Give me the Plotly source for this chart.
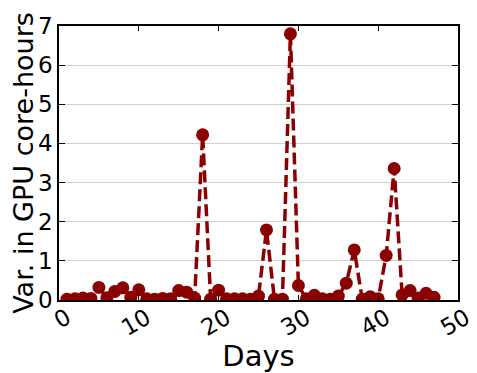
import plotly.graph_objects as go

days = list(range(1, 48))
variance = [0.02, 0.03, 0.05, 0.04, 0.32, 0.06, 0.22, 0.31, 0.07, 0.26,
            0.03, 0.02, 0.04, 0.03, 0.24, 0.2, 0.05, 4.22, 0.02, 0.25,
            0.03, 0.03, 0.03, 0.02, 0.1, 1.79, 0.02, 0.02, 6.8, 0.37,
            0.03, 0.12, 0.03, 0.02, 0.1, 0.43, 1.28, 0.02, 0.08, 0.03,
            1.14, 3.36, 0.13, 0.24, 0.05, 0.17, 0.07]
x_ticks = [0, 10, 20, 30, 40, 50]
y_ticks = [0, 1, 2, 3, 4, 5, 6, 7]

color = "#8b0000"
font = "DejaVu Sans"

fig = go.Figure(go.Scatter(
    x=days, y=variance, mode="lines+markers",
    line=dict(color=color, width=3.5, dash="12px,5px"),
    marker=dict(color=color, size=13),
    cliponaxis=True,
))

# page body has an 8px default margin, so the figure is 8px smaller
fig.update_layout(
    width=469, height=365,
    margin=dict(l=51, r=19, t=18, b=73),
    paper_bgcolor="white", plot_bgcolor="white",
    showlegend=False,
    font=dict(family=font, color="black"),
)
fig.update_xaxes(
    range=[0, 50], tickvals=x_ticks, ticktext=[str(v) for v in x_ticks],
    tickangle=-30, tickfont=dict(size=23, family=font), ticklabelshift=8,
    ticklabelstandoff=-6, ticklabeloverflow="allow",
    showgrid=False, zeroline=False, automargin=False,
    showline=True, linecolor="black", linewidth=1.5, mirror="ticks",
    ticks="inside", ticklen=5, tickcolor="black",
    title=dict(text="Days", font=dict(size=29, family=font), standoff=2),
)
fig.update_yaxes(
    range=[0, 7], tickvals=y_ticks, ticktext=[str(v) for v in y_ticks],
    tickfont=dict(size=23, family=font),
    showgrid=True, gridcolor="#d0d0d0", gridwidth=1, zeroline=False, automargin=False,
    showline=True, linecolor="black", linewidth=1.5, mirror="ticks",
    ticks="inside", ticklen=6, tickcolor="black",
    title=dict(text="Var. in GPU core-hours", font=dict(size=27, family=font), standoff=2),
)

fig.write_html("out.html")
